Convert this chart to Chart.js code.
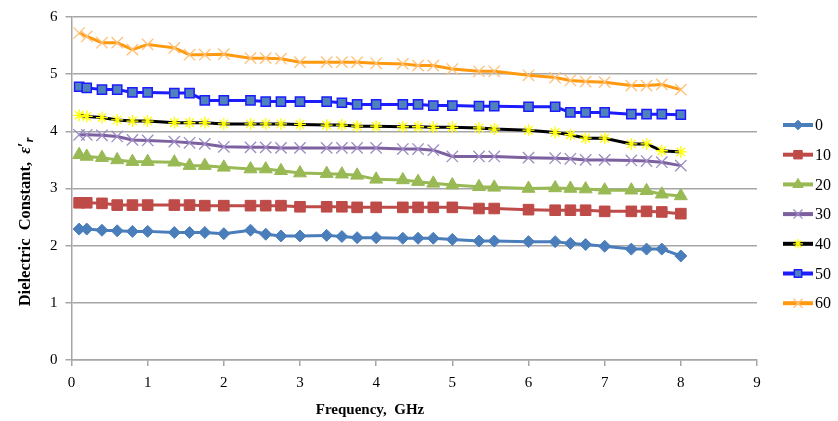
<!DOCTYPE html>
<html>
<head>
<meta charset="utf-8">
<script src="https://cdn.jsdelivr.net/npm/chart.js@4.4.1/dist/chart.umd.min.js"></script>
<style>
  html, body { margin: 0; padding: 0; background: #fff; }
  #wrap { width: 838px; height: 421px; position: relative; }
</style>
</head>
<body>
<div id="wrap"><canvas id="chartEps"></canvas></div>
<script>
// frecuencias (GHz) y constante dieléctrica por serie
const freqGHz = [0.1, 0.2, 0.4, 0.6, 0.8, 1.0, 1.35, 1.55, 1.75, 2.0, 2.35, 2.55, 2.75, 3.0,
  3.35, 3.55, 3.75, 4.0, 4.35, 4.55, 4.75, 5.0, 5.35, 5.55, 6.0, 6.35, 6.55, 6.75, 7.0,
  7.35, 7.55, 7.75, 8.0];

const seriesNames = ["0", "10", "20", "30", "40", "50", "60"];

const eps0 = [2.29, 2.29, 2.27, 2.26, 2.25, 2.25, 2.23, 2.23, 2.23, 2.21, 2.27, 2.20, 2.17, 2.17,
  2.18, 2.16, 2.14, 2.14, 2.13, 2.13, 2.13, 2.11, 2.08, 2.08, 2.07, 2.07, 2.04, 2.02, 1.99,
  1.94, 1.94, 1.94, 1.82];
const eps10 = [2.75, 2.75, 2.74, 2.71, 2.71, 2.71, 2.71, 2.71, 2.70, 2.70, 2.70, 2.70, 2.70, 2.68,
  2.68, 2.68, 2.67, 2.67, 2.67, 2.67, 2.67, 2.67, 2.65, 2.65, 2.63, 2.62, 2.62, 2.62, 2.60,
  2.60, 2.60, 2.59, 2.56];
const eps20 = [3.59, 3.56, 3.54, 3.50, 3.47, 3.47, 3.46, 3.40, 3.40, 3.37, 3.34, 3.34, 3.31, 3.27,
  3.26, 3.25, 3.23, 3.16, 3.15, 3.12, 3.09, 3.06, 3.03, 3.02, 3.00, 3.01, 3.00, 2.99, 2.97,
  2.97, 2.96, 2.90, 2.87];
const eps30 = [3.94, 3.94, 3.93, 3.91, 3.85, 3.84, 3.82, 3.80, 3.78, 3.73, 3.72, 3.72, 3.71, 3.71,
  3.71, 3.71, 3.71, 3.71, 3.69, 3.69, 3.67, 3.56, 3.56, 3.56, 3.54, 3.53, 3.52, 3.50, 3.50,
  3.49, 3.48, 3.46, 3.40];
const eps40 = [4.28, 4.26, 4.24, 4.20, 4.18, 4.18, 4.15, 4.15, 4.15, 4.13, 4.13, 4.13, 4.13, 4.12,
  4.11, 4.11, 4.09, 4.09, 4.08, 4.08, 4.07, 4.07, 4.06, 4.04, 4.02, 3.98, 3.94, 3.88, 3.88,
  3.78, 3.78, 3.66, 3.64];
const eps50 = [4.78, 4.76, 4.73, 4.73, 4.68, 4.68, 4.67, 4.67, 4.54, 4.54, 4.54, 4.52, 4.52, 4.52,
  4.52, 4.50, 4.47, 4.47, 4.47, 4.47, 4.45, 4.45, 4.44, 4.44, 4.43, 4.43, 4.33, 4.33, 4.33,
  4.30, 4.30, 4.30, 4.29];
const eps60 = [5.72, 5.66, 5.55, 5.55, 5.43, 5.52, 5.46, 5.34, 5.34, 5.35, 5.28, 5.28, 5.27, 5.21,
  5.21, 5.21, 5.21, 5.19, 5.18, 5.15, 5.15, 5.09, 5.05, 5.05, 4.98, 4.94, 4.89, 4.87, 4.86,
  4.80, 4.80, 4.82, 4.73];

const xTicks = [0, 1, 2, 3, 4, 5, 6, 7, 8, 9];
const yTicks = [0, 1, 2, 3, 4, 5, 6];

const allSeries = [eps0, eps10, eps20, eps30, eps40, eps50, eps60];

// estilo tipo Excel de cada serie
const estilos = [
  { line: "#4a7ebb", fill: "#4a7ebb", edge: "#4a7ebb", shape: "rectRot", r: 6, bw: 1 },
  { line: "#be4b48", fill: "#be4b48", edge: "#be4b48", shape: "rect", r: 7.5, bw: 1 },
  { line: "#98b954", fill: "#98b954", edge: "#98b954", shape: "triangle", r: 7.5, bw: 1 },
  { line: "#7d60a0", fill: "#9d8cc4", edge: "#9d8cc4", shape: "crossRot", r: 8, bw: 1.3 },
  { line: "#000000", fill: "#ffff00", edge: "#ffff00", shape: "star", r: 6, bw: 1.3 },
  { line: "#1c1cff", fill: "#4f81bd", edge: "#1c1cff", shape: "rect", r: 6.5, bw: 1.5 },
  { line: "#ff9a10", fill: "#ffc078", edge: "#ffc078", shape: "crossRot", r: 8, bw: 1.3 },
];

const FONT = "'Liberation Serif', 'Times New Roman', serif";

const datasets = allSeries.map((vals, i) => ({
  label: seriesNames[i],
  data: freqGHz.map((f, k) => ({ x: f, y: vals[k] })),
  borderColor: estilos[i].line,
  borderWidth: 3,
  pointStyle: estilos[i].shape,
  pointRadius: estilos[i].r,
  pointBackgroundColor: estilos[i].fill,
  pointBorderColor: estilos[i].edge,
  pointBorderWidth: estilos[i].bw,
  tension: 0,
}));

// leyenda con línea + marcador, y títulos de ejes
const extras = {
  id: "extras",
  afterDraw(chart) {
    const ctx = chart.ctx;
    ctx.save();
    // leyenda
    const lx0 = 783, lx1 = 813, y0 = 125, dy = 29.7;
    chart.data.datasets.forEach((ds, i) => {
      const y = y0 + i * dy;
      ctx.strokeStyle = ds.borderColor;
      ctx.lineWidth = 4;
      ctx.beginPath();
      ctx.moveTo(lx0, y);
      ctx.lineTo(lx1, y);
      ctx.stroke();
      ctx.fillStyle = ds.pointBackgroundColor;
      ctx.strokeStyle = ds.pointBorderColor;
      ctx.lineWidth = ds.pointBorderWidth;
      Chart.helpers.drawPoint(ctx, { pointStyle: ds.pointStyle, radius: ds.pointRadius * 0.8, borderWidth: ds.pointBorderWidth }, (lx0 + lx1) / 2, y);
      ctx.fillStyle = "#000";
      ctx.font = "16px " + FONT;
      ctx.textAlign = "left";
      ctx.textBaseline = "middle";
      ctx.fillText(ds.label, lx1 + 2, y + 1);
    });

    // título eje X
    ctx.fillStyle = "#000";
    ctx.font = "bold 15px " + FONT;
    ctx.textAlign = "center";
    ctx.textBaseline = "middle";
    ctx.fillText("Frequency,  GHz", 370, 410);

    // título eje Y (rotado)
    ctx.translate(26, 222);
    ctx.rotate(-Math.PI / 2);
    const partes = [
      { t: "Dielectric  Constant,  ", f: "bold 16.5px " + FONT, dy: 0 },
      { t: "ε", f: "bold italic 16.5px " + FONT, dy: 0 },
      { t: "′", f: "bold 16.5px " + FONT, dy: -1 },
      { t: "r", f: "bold italic 12px " + FONT, dy: 4 },
    ];
    let total = 0;
    partes.forEach((p) => { ctx.font = p.f; p.w = ctx.measureText(p.t).width; total += p.w; });
    let x = -total / 2;
    ctx.textAlign = "left";
    partes.forEach((p) => {
      ctx.font = p.f;
      ctx.fillText(p.t, x, p.dy);
      x += p.w;
    });
    ctx.restore();
  },
};

new Chart(document.getElementById("chartEps"), {
  type: "line",
  data: { datasets },
  options: {
    responsive: true,
    maintainAspectRatio: false,
    animation: false,
    layout: { padding: { left: 42, right: 81, top: 9, bottom: 21 } },
    plugins: {
      legend: { display: false },
      tooltip: { enabled: false },
    },
    scales: {
      x: {
        type: "linear",
        min: 0,
        max: 9,
        afterBuildTicks: (s) => { s.ticks = xTicks.map((v) => ({ value: v })); },
        grid: { display: true, drawOnChartArea: false, drawTicks: true, tickLength: 6, color: "#a6a6a6", lineWidth: 1.5 },
        border: { color: "#a6a6a6", width: 1.5 },
        ticks: { color: "#000", font: { family: FONT, size: 15 }, padding: 8, maxRotation: 0 },
      },
      y: {
        min: 0,
        max: 6,
        afterBuildTicks: (s) => { s.ticks = yTicks.map((v) => ({ value: v })); },
        grid: { color: "#a6a6a6", lineWidth: 1.5, tickLength: 6 },
        border: { color: "#a6a6a6", width: 1.5 },
        ticks: { color: "#000", font: { family: FONT, size: 15 }, padding: 8 },
      },
    },
  },
  plugins: [extras],
});
</script>
</body>
</html>
